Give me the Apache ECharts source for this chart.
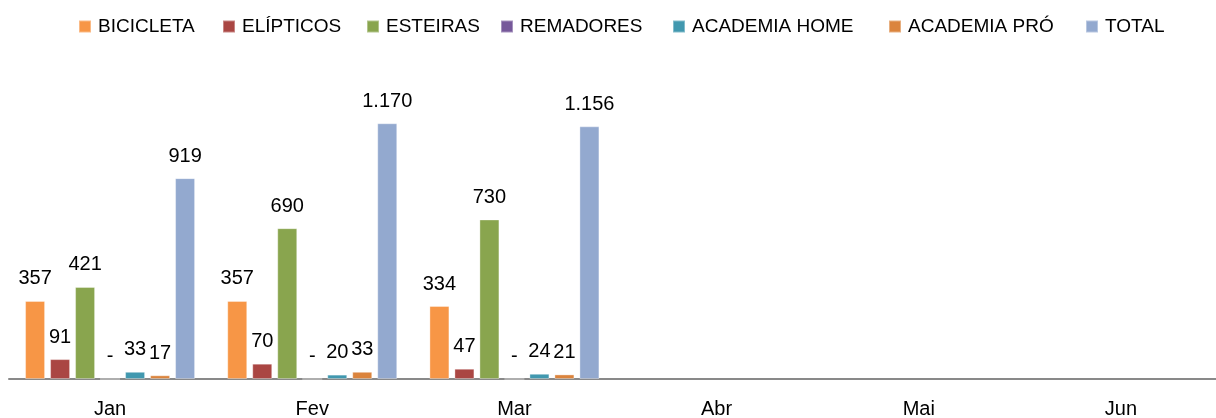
<!DOCTYPE html>
<html>
<head>
<meta charset="utf-8">
<script src="https://cdn.jsdelivr.net/npm/echarts@6/dist/echarts.min.js"></script>
<style>
html,body{margin:0;padding:0;background:#fff;}
#chart{width:1216px;height:418px;}
</style>
</head>
<body>
<div id="chart"></div>
<script>
var categories = ['Jan', 'Fev', 'Mar', 'Abr', 'Mai', 'Jun'];
var seriesNames = ['BICICLETA', 'ELÍPTICOS', 'ESTEIRAS', 'REMADORES', 'ACADEMIA HOME', 'ACADEMIA PRÓ', 'TOTAL'];
var bicicleta = [357, 357, 334, null, null, null];
var elipticos = [91, 70, 47, null, null, null];
var esteiras = [421, 690, 730, null, null, null];
var remadores = [0, 0, 0, null, null, null];
var academiaHome = [33, 20, 24, null, null, null];
var academiaPro = [17, 33, 21, null, null, null];
var total = [919, 1170, 1156, null, null, null];
var colors = ['#F79646', '#AA4643', '#89A54E', '#76589A', '#4198AF', '#DB843D', '#93A9CF'];

var allData = [bicicleta, elipticos, esteiras, remadores, academiaHome, academiaPro, total];
var FONT = '"Liberation Sans", Arial, sans-serif';

// legend item left positions (layout styling only)
var legendLefts = [78, 222, 366, 500, 672, 888, 1085];

function fmt(p) {
  var v = p.value;
  if (v === null || v === undefined) return '';
  if (v === 0) return '-';
  var s = String(Math.round(v));
  return s.replace(/\B(?=(\d{3})+(?!\d))/g, '.');
}

var legends = seriesNames.map(function (name, i) {
  return {
    top: 17,
    left: legendLefts[i],
    padding: 0,
    itemWidth: 12,
    itemHeight: 12,
    icon: 'rect',
    textStyle: {fontFamily: FONT, fontSize: 19, color: '#000', padding: [0, 0, 0, 2]},
    data: [name]
  };
});

var chart = echarts.init(document.getElementById('chart'), null, {renderer: 'canvas'});
chart.setOption({
  animation: false,
  color: colors,
  legend: legends,
  grid: {left: 9, width: 1213, top: 73, bottom: 39, containLabel: false, outerBoundsMode: 'none'},
  xAxis: {
    type: 'category',
    data: categories,
    axisLine: {lineStyle: {color: '#898989', width: 2}},
    axisTick: {show: false},
    axisLabel: {fontFamily: FONT, fontSize: 20, color: '#000', margin: 20}
  },
  yAxis: {type: 'value', min: 0, max: 1400, show: false, splitLine: {show: false}},
  series: seriesNames.map(function (name, i) {
    return {
      name: name,
      type: 'bar',
      data: allData[i],
      barWidth: 20,
      barGap: '25%',
      itemStyle: {color: colors[i], borderColor: 'rgba(255,255,255,0.35)', borderWidth: 1},
      label: {
        show: true,
        position: 'top',
        distance: 12,
        fontFamily: FONT,
        fontSize: 20,
        color: '#000',
        formatter: fmt
      }
    };
  })
});
</script>
</body>
</html>
